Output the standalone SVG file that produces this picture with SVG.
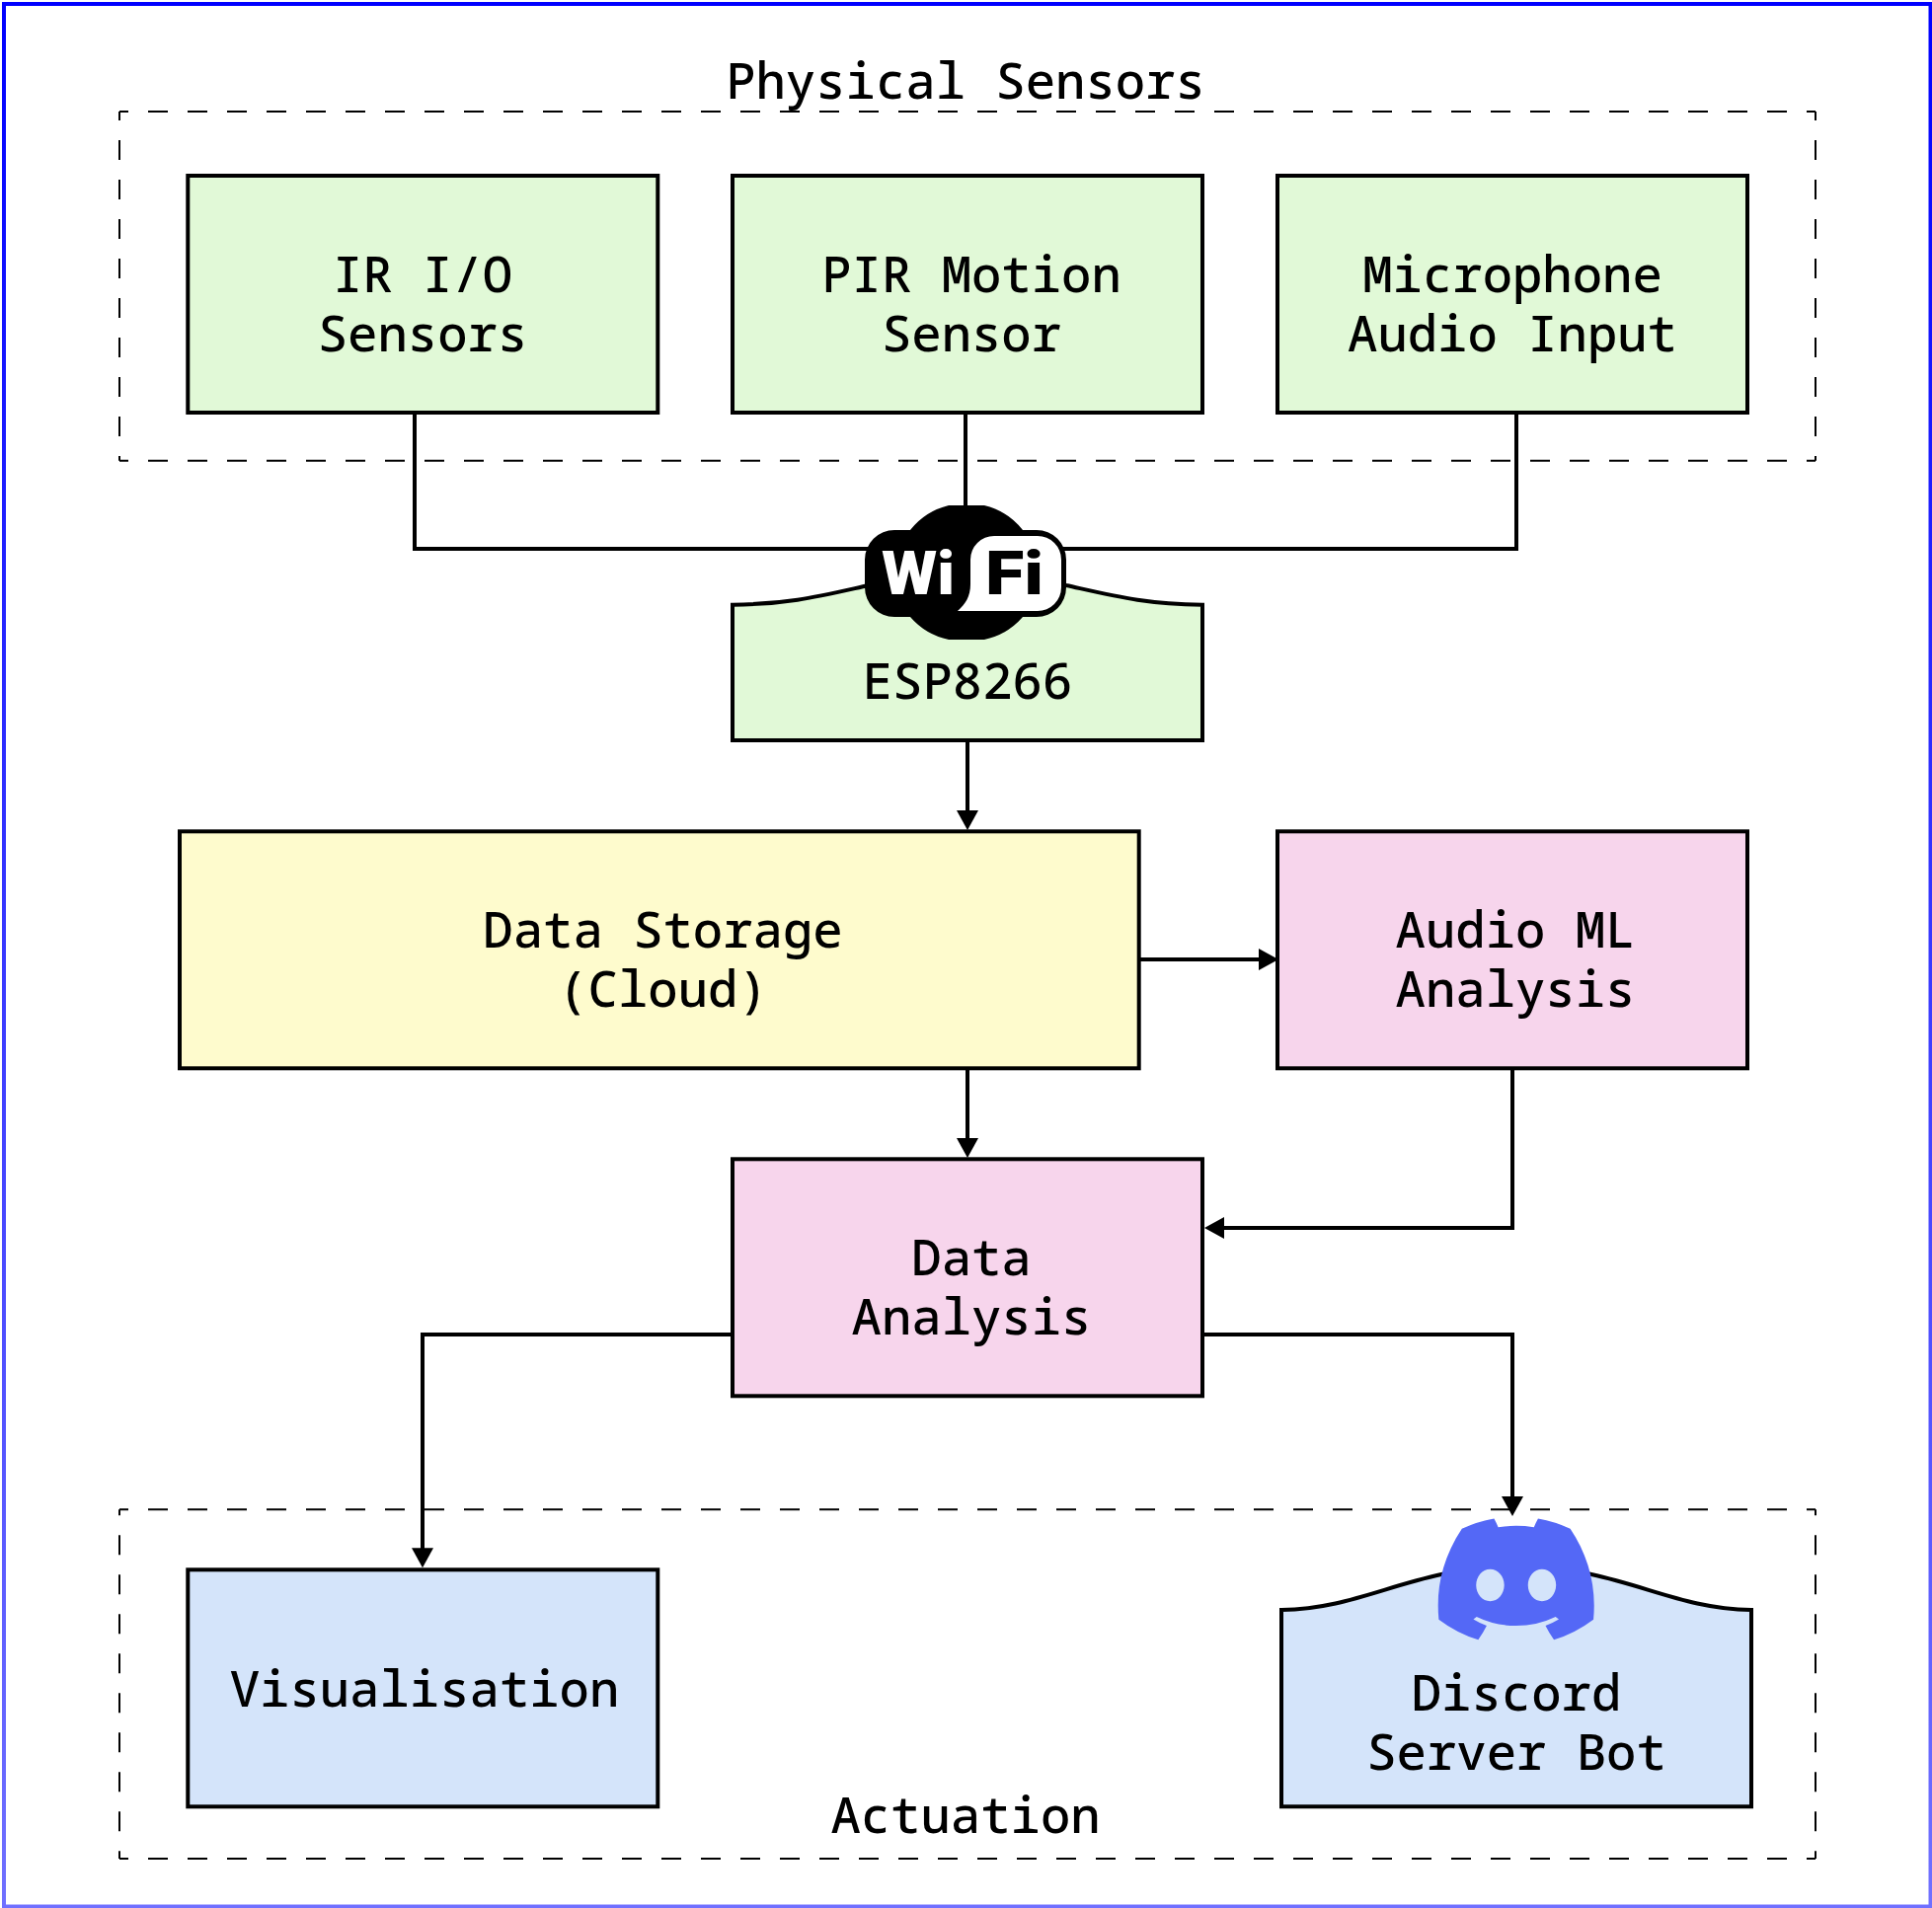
<svg xmlns="http://www.w3.org/2000/svg" width="1957" height="1933" viewBox="0 0 1957 1933">
<style>
.box{stroke:#000;stroke-width:4}
.g{fill:#e1f9d7}.y{fill:#fefbcd}.p{fill:#f7d5ec}.b{fill:#d4e4fa}
.t{font-family:"Noto Sans Mono","DejaVu Sans Mono",monospace;font-size:50.6px;font-weight:500;fill:#000;text-anchor:middle}
.d{stroke:#000;stroke-width:2;fill:none;stroke-dasharray:20 20}
.c{stroke:#000;stroke-width:4;fill:none}
.a{marker-end:url(#arr)}
.w{font-family:Roboto,"Liberation Sans",sans-serif;font-weight:900;font-size:62px}
</style>
<defs>
<linearGradient id="frame" x1="0" y1="0" x2="0" y2="1"><stop offset="0" stop-color="#0000ff"/><stop offset="1" stop-color="#7070ff"/></linearGradient>
<marker id="arr" markerUnits="userSpaceOnUse" markerWidth="21" markerHeight="22" refX="2" refY="11" orient="auto"><path d="M0,0L20,11L0,22Z" fill="#000"/></marker>
</defs>
<rect width="1957" height="1933" fill="#fff"/>
<rect id="frame-border" x="4" y="4" width="1951.5" height="1927.5" fill="#fff" stroke="url(#frame)" stroke-width="4"/>
<g id="sensors-group">
<path class="d" stroke-dashoffset="11" d="M121,113H1839"/>
<path class="d" stroke-dashoffset="11" d="M121,466.7H1839"/>
<path class="d" stroke-dashoffset="11" d="M121,113V466.7"/>
<path class="d" stroke-dashoffset="11" d="M1839,113V466.7"/>
<text class="t" x="978" y="100">Physical Sensors</text>
</g>
<g id="actuation-group">
<path class="d" stroke-dashoffset="11" d="M121,1529.3H1839"/>
<path class="d" stroke-dashoffset="11" d="M121,1883H1839"/>
<path class="d" stroke-dashoffset="14" d="M121,1529.3V1883"/>
<path class="d" stroke-dashoffset="14" d="M1839,1529.3V1883"/>
<text class="t" x="978" y="1857">Actuation</text>
</g>
<g id="connectors">
<path class="c" d="M420,418V556H900"/>
<path class="c" d="M978,418V530"/>
<path class="c" d="M1536,418V556H1060"/>
<path class="c a" d="M980,750V823"/>
<path class="c a" d="M1153.7,972H1277"/>
<path class="c a" d="M980,1082V1155"/>
<path class="c a" d="M1532,1082V1244H1238"/>
<path class="c a" d="M742,1352H428V1570.3"/>
<path class="c a" d="M1218,1352H1532V1518"/>
</g>
<g id="ir"><rect class="box g" x="190.3" y="178" width="476" height="240"/><text class="t" y="296"><tspan x="428">IR I/O</tspan><tspan x="428" dy="60">Sensors</tspan></text></g>
<g id="pir"><rect class="box g" x="742" y="178" width="476" height="240"/><text class="t" y="296"><tspan x="984">PIR Motion</tspan><tspan x="984" dy="60">Sensor</tspan></text></g>
<g id="mic"><rect class="box g" x="1294" y="178" width="476" height="240"/><text class="t" y="296"><tspan x="1532">Microphone</tspan><tspan x="1532" dy="60">Audio Input</tspan></text></g>
<g id="esp8266">
<path class="box g" d="M742,612.7C800,612 830,604 880,593C930,580 950,575 980,575C1010,575 1030,580 1080,593C1130,604 1160,612 1218,612.7V750H742Z"/>
<path fill="#000" d="M961,512H997A71,71 0 0 1 1036,537H1050A30,30 0 0 1 1080,567V595A30,30 0 0 1 1050,625H1036A71,71 0 0 1 997,648H961A71,71 0 0 1 922,625H906A30,30 0 0 1 876,595V567A30,30 0 0 1 906,537H922A71,71 0 0 1 961,512Z"/>
<path fill="#fff" d="M970,619C978,612 983,604 983,592V567A24,24 0 0 1 1007,543H1051A24,24 0 0 1 1075,567V595A24,24 0 0 1 1051,619Z"/>
<text class="w" x="893" y="601.7" fill="#fff" textLength="74" lengthAdjust="spacingAndGlyphs">Wi</text>
<text class="w" x="998" y="601.7" fill="#000" textLength="59" lengthAdjust="spacingAndGlyphs">Fi</text>
<text class="t" x="980" y="708">ESP8266</text>
</g>
<g id="storage"><rect class="box y" x="182" y="842.3" width="971.7" height="240"/><text class="t" y="960"><tspan x="671.5">Data Storage</tspan><tspan x="671.5" dy="60">(Cloud)</tspan></text></g>
<g id="audio"><rect class="box p" x="1294" y="842.3" width="476" height="240"/><text class="t" y="960"><tspan x="1535">Audio ML</tspan><tspan x="1535" dy="60">Analysis</tspan></text></g>
<g id="analysis"><rect class="box p" x="742" y="1174.3" width="476" height="240"/><text class="t" y="1292"><tspan x="984">Data</tspan><tspan x="984" dy="60">Analysis</tspan></text></g>
<g id="visualisation"><rect class="box b" x="190.3" y="1590.3" width="476" height="240"/><text class="t" x="430" y="1729">Visualisation</text></g>
<g id="discord">
<path class="box b" d="M1298,1631C1360,1630 1400,1608 1460,1595C1490,1588 1510,1585 1536,1585C1562,1585 1582,1588 1612,1595C1672,1608 1712,1630 1774,1631V1830.3H1298Z"/>
<path transform="translate(1456.7 1538.5) scale(1.243 1.274)" fill="#5468f6" d="M107.7,8.07A105.15,105.15,0,0,0,81.47,0a72.06,72.06,0,0,0-3.36,6.83A97.68,97.68,0,0,0,49,6.83,72.37,72.37,0,0,0,45.64,0,105.89,105.89,0,0,0,19.39,8.09C2.79,32.65-1.71,56.6.54,80.21h0A105.73,105.73,0,0,0,32.71,96.36,77.7,77.7,0,0,0,39.6,85.25a68.42,68.42,0,0,1-10.85-5.18c.91-.66,1.8-1.34,2.66-2a75.57,75.57,0,0,0,64.32,0c.87.71,1.76,1.39,2.66,2a68.68,68.68,0,0,1-10.87,5.19,77,77,0,0,0,6.89,11.1A105.25,105.25,0,0,0,126.6,80.22h0C129.24,52.84,122.09,29.11,107.7,8.07ZM42.45,65.69C36.18,65.69,31,60,31,53s5-12.74,11.43-12.74S54,46,53.89,53,48.84,65.69,42.45,65.69Zm42.24,0C78.41,65.69,73.25,60,73.25,53s5-12.74,11.44-12.74S96.23,46,96.12,53,91.08,65.69,84.69,65.69Z"/>
<text class="t" y="1733"><tspan x="1536">Discord</tspan><tspan x="1536" dy="60">Server Bot</tspan></text>
</g>
</svg>
